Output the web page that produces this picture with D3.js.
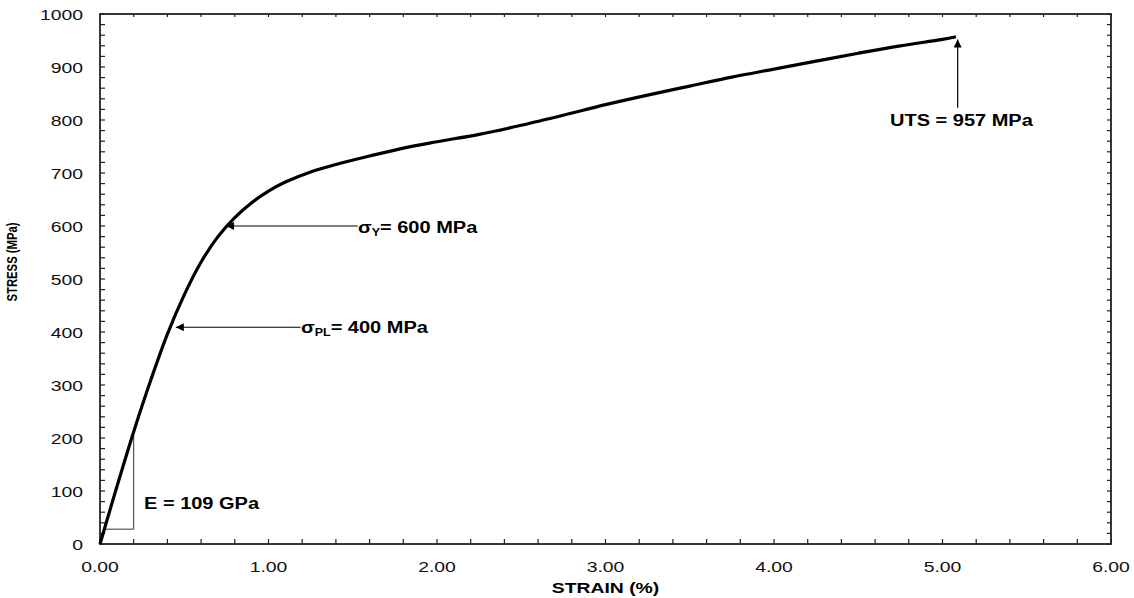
<!DOCTYPE html>
<html>
<head>
<meta charset="utf-8">
<script src="https://cdn.jsdelivr.net/npm/d3@7"></script>
<style>
  html, body { margin: 0; padding: 0; background: #fff; }
  svg { display: block; font-family: "Liberation Sans", Arial, sans-serif; }
</style>
</head>
<body>
<svg id="chart" width="1134" height="598"></svg>
<script>
// Data (strain in %, stress in MPa)
const strain = [0, 0.1, 0.2, 0.3, 0.4, 0.5, 0.6, 0.7, 0.8, 0.9, 1.0, 1.1, 1.25, 1.4, 1.6,
  1.8, 2.0, 2.25, 2.5, 2.75, 3.0, 3.25, 3.5, 3.75, 4.0, 4.25, 4.5, 4.75, 5.0, 5.08];
const stress = [0, 108, 212, 308, 396, 470, 532, 580, 616, 644, 666, 683, 702, 716, 732,
  747, 759, 773, 790, 809, 829, 847, 864, 881, 896, 911, 926, 940, 952, 957];

const xTicks = [0, 1, 2, 3, 4, 5, 6];
const yTicks = [0, 100, 200, 300, 400, 500, 600, 700, 800, 900, 1000];

// modulus triangle corners
const triStrain = [0.026, 0.2, 0.2];
const triStress = [28, 28, 205];

// arrows: from -> tip
const arrows = [
  { x1: 1.19, y1: 409, x2: 0.45, y2: 409 },
  { x1: 1.53, y1: 600, x2: 0.748, y2: 600 },
  { x1: 5.09, y1: 823, x2: 5.09, y2: 952 }
];

// Config
const W = 1134, H = 598;
const PLOT = { left: 100, right: 1111, top: 14, bottom: 544 };
const SX = 1.25; // the original is stretched sideways

const svg = d3.select("#chart");

const x = d3.scaleLinear().domain([0, 6]).range([PLOT.left, PLOT.right]);
const y = d3.scaleLinear().domain([0, 1000]).range([PLOT.bottom, PLOT.top]);

function stretched(sel, px, py, extra) {
  return sel.attr("transform", `translate(${px},${py}) scale(${SX},1)${extra || ""}`);
}

// minor ticks
const xMinor = d3.range(0, 6.0001, 0.2);
const yMinor = d3.range(0, 1000.1, 20);

const ticks = svg.append("g").attr("stroke", "#222").attr("stroke-width", 1.2);
xMinor.forEach(v => {
  ticks.append("line").attr("x1", x(v)).attr("x2", x(v)).attr("y1", PLOT.bottom).attr("y2", PLOT.bottom - 5);
  ticks.append("line").attr("x1", x(v)).attr("x2", x(v)).attr("y1", PLOT.top).attr("y2", PLOT.top + 3);
});
yMinor.forEach(v => {
  ticks.append("line").attr("y1", y(v)).attr("y2", y(v)).attr("x1", PLOT.left).attr("x2", PLOT.left + 5);
  ticks.append("line").attr("y1", y(v)).attr("y2", y(v)).attr("x1", PLOT.right).attr("x2", PLOT.right - 4);
});

// frame
svg.append("rect")
  .attr("x", PLOT.left).attr("y", PLOT.top)
  .attr("width", PLOT.right - PLOT.left).attr("height", PLOT.bottom - PLOT.top)
  .attr("fill", "none").attr("stroke", "#222").attr("stroke-width", 1.8);

// tick labels
xTicks.forEach(v => {
  stretched(svg.append("text"), x(v), 572)
    .attr("text-anchor", "middle").attr("font-size", 15.5).attr("fill", "#111")
    .text(v.toFixed(2));
});
yTicks.forEach(v => {
  stretched(svg.append("text"), 83, y(v) + 5.5)
    .attr("text-anchor", "end").attr("font-size", 15.5).attr("fill", "#111")
    .text(v);
});

// axis titles
stretched(svg.append("text"), x(3), 593)
  .attr("text-anchor", "middle").attr("font-size", 15.5).attr("font-weight", "bold")
  .text("STRAIN (%)");
stretched(svg.append("text"), 17, 262, " rotate(-90)")
  .attr("text-anchor", "middle").attr("font-size", 11.3).attr("font-weight", "bold")
  .text("STRESS (MPa)");

// modulus triangle
svg.append("path")
  .attr("d", d3.line()(triStrain.map((s, i) => [x(s), y(triStress[i])])))
  .attr("fill", "none").attr("stroke", "#333").attr("stroke-width", 1);

// curve
svg.append("path")
  .attr("d", d3.line().x((d, i) => x(strain[i])).y((d, i) => y(stress[i])).curve(d3.curveCatmullRom)(strain))
  .attr("fill", "none").attr("stroke", "#000").attr("stroke-width", 3.2)
  .attr("stroke-linejoin", "round");

// arrows
svg.append("defs").append("marker")
  .attr("id", "head").attr("viewBox", "0 0 10 10")
  .attr("refX", 10).attr("refY", 5)
  .attr("markerWidth", 9).attr("markerHeight", 8)
  .attr("markerUnits", "userSpaceOnUse")
  .attr("orient", "auto")
  .append("path").attr("d", "M0,0 L10,5 L0,10 Z").attr("fill", "#000");

arrows.forEach(a => {
  svg.append("line")
    .attr("x1", x(a.x1)).attr("y1", y(a.y1))
    .attr("x2", x(a.x2)).attr("y2", y(a.y2))
    .attr("stroke", "#000").attr("stroke-width", 1.2)
    .attr("marker-end", "url(#head)");
});

// annotation labels
function label(px, py) {
  return stretched(svg.append("text"), px, py)
    .attr("font-size", 16).attr("font-weight", "bold").attr("fill", "#000");
}

label(144, 509).text("E = 109 GPa");
label(890, 126).text("UTS = 957 MPa");

const pl = label(301, 333);
pl.append("tspan").text("σ");
pl.append("tspan").attr("font-size", 10).attr("dy", 3).text("PL");
pl.append("tspan").attr("dy", -3).text("= 400 MPa");

const ys = label(358, 233);
ys.append("tspan").text("σ");
ys.append("tspan").attr("font-size", 10).attr("dy", 3).text("Y");
ys.append("tspan").attr("dy", -3).text("= 600 MPa");
</script>
</body>
</html>
